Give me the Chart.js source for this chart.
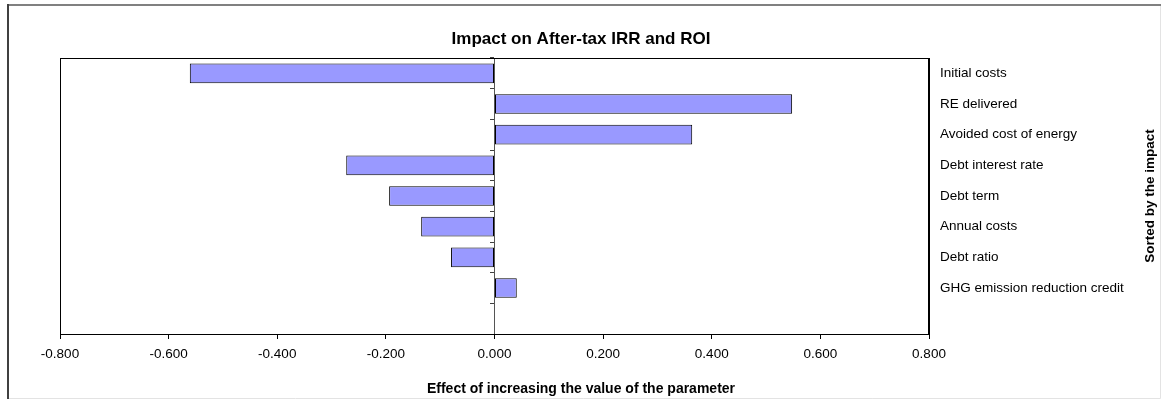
<!DOCTYPE html>
<html>
<head>
<meta charset="utf-8">
<script src="https://cdn.jsdelivr.net/npm/chart.js@4"></script>
<style>
  body { margin: 0; background: #fff; }
  canvas { display: block; }
</style>
</head>
<body>
<canvas id="tornado" width="1162" height="400"></canvas>
<script>
// parameters, sorted by the impact (last slot is left empty like the original)
const categories = [
  "Initial costs",
  "RE delivered",
  "Avoided cost of energy",
  "Debt interest rate",
  "Debt term",
  "Annual costs",
  "Debt ratio",
  "GHG emission reduction credit",
  ""
];
const impact = [-0.561, 0.548, 0.364, -0.273, -0.194, -0.135, -0.080, 0.041, null];
const xTicks = [-0.8, -0.6, -0.4, -0.2, 0, 0.2, 0.4, 0.6, 0.8];

const frame = {
  id: "frame",
  beforeDraw(chart) {
    const ctx = chart.ctx;
    ctx.save();
    ctx.fillStyle = "#fff";
    ctx.fillRect(0, 0, chart.width, chart.height);
    ctx.lineWidth = 1;
    ctx.strokeStyle = "#e3e3e3";
    ctx.beginPath();
    ctx.moveTo(1160.5, 4); ctx.lineTo(1160.5, 398.5); ctx.lineTo(7, 398.5);
    ctx.stroke();
    ctx.lineWidth = 2;
    ctx.strokeStyle = "#808080";
    ctx.beginPath(); ctx.moveTo(7, 5); ctx.lineTo(1161, 5); ctx.stroke();
    ctx.strokeStyle = "#404040";
    ctx.beginPath(); ctx.moveTo(8, 4); ctx.lineTo(8, 399); ctx.stroke();
    ctx.restore();
  },
  afterDraw(chart) {
    const {ctx, chartArea: a} = chart;
    ctx.save();
    ctx.strokeStyle = "#000";
    ctx.lineWidth = 1;
    ctx.strokeRect(a.left + 0.5, a.top + 0.5, a.right - a.left - 1, a.bottom - a.top);
    // right axis title, reading bottom to top
    ctx.translate(1150, (a.top + a.bottom) / 2);
    ctx.rotate(-Math.PI / 2);
    ctx.font = "bold 13.5px 'Liberation Sans', Arial, sans-serif";
    ctx.fillStyle = "#000";
    ctx.textAlign = "center";
    ctx.textBaseline = "middle";
    ctx.fillText("Sorted by the impact", 0, 0);
    ctx.restore();
  }
};

new Chart("tornado", {
  type: "bar",
  data: {
    labels: categories,
    datasets: [{
      data: impact,
      backgroundColor: "#9999FF",
      borderColor: "#000",
      borderWidth: 1,
      borderSkipped: false,
      barPercentage: 0.64,
      categoryPercentage: 1
    }]
  },
  options: {
    indexAxis: "y",
    responsive: false,
    animation: false,
    layout: { padding: 0 },
    font: { family: "'Liberation Sans', Arial, sans-serif" },
    scales: {
      x: {
        min: -0.8,
        max: 0.8,
        afterBuildTicks(scale) {
          scale.ticks = xTicks.map(v => ({ value: v }));
        },
        afterFit(scale) { scale.height = 47.2; },
        grid: { drawOnChartArea: false, tickLength: 5, color: "#000" },
        border: { color: "#000" },
        ticks: {
          padding: 7,
          color: "#000",
          font: { size: 13.5 },
          callback: v => Number(v).toFixed(3)
        }
      },
      y: {
        type: "category",
        position: "right",
        afterFit(scale) { scale.width = 233; },
        grid: { display: false, drawTicks: false },
        border: { color: "#000" },
        ticks: { padding: 11, color: "#000", font: { size: 13.5 } }
      },
      // empty left axis, only keeps the margin left of the plot
      spacer: {
        type: "linear",
        axis: "y",
        position: "left",
        afterFit(scale) { scale.width = 60; },
        grid: { display: false, drawTicks: false },
        border: { display: false },
        ticks: { display: false }
      },
      zero: {
        type: "category",
        axis: "y",
        position: { x: 0 },
        labels: categories,
        min: 0,
        max: categories.length - 1,
        offset: true,
        grid: { drawOnChartArea: false, offset: true, tickLength: 4, color: "#404040" },
        border: { color: "#555" },
        ticks: { display: false }
      }
    },
    plugins: {
      legend: { display: false },
      tooltip: { enabled: false },
      title: {
        display: true,
        text: "Impact on After-tax IRR and ROI",
        color: "#000",
        font: { size: 17, weight: "bold" },
        padding: { top: 29, bottom: 8.6 }
      },
      subtitle: {
        display: true,
        position: "bottom",
        text: "Effect of increasing the value of the parameter",
        color: "#000",
        font: { size: 14, weight: "bold" },
        padding: { top: 0, bottom: 2 }
      }
    }
  },
  plugins: [frame]
});
</script>
</body>
</html>
